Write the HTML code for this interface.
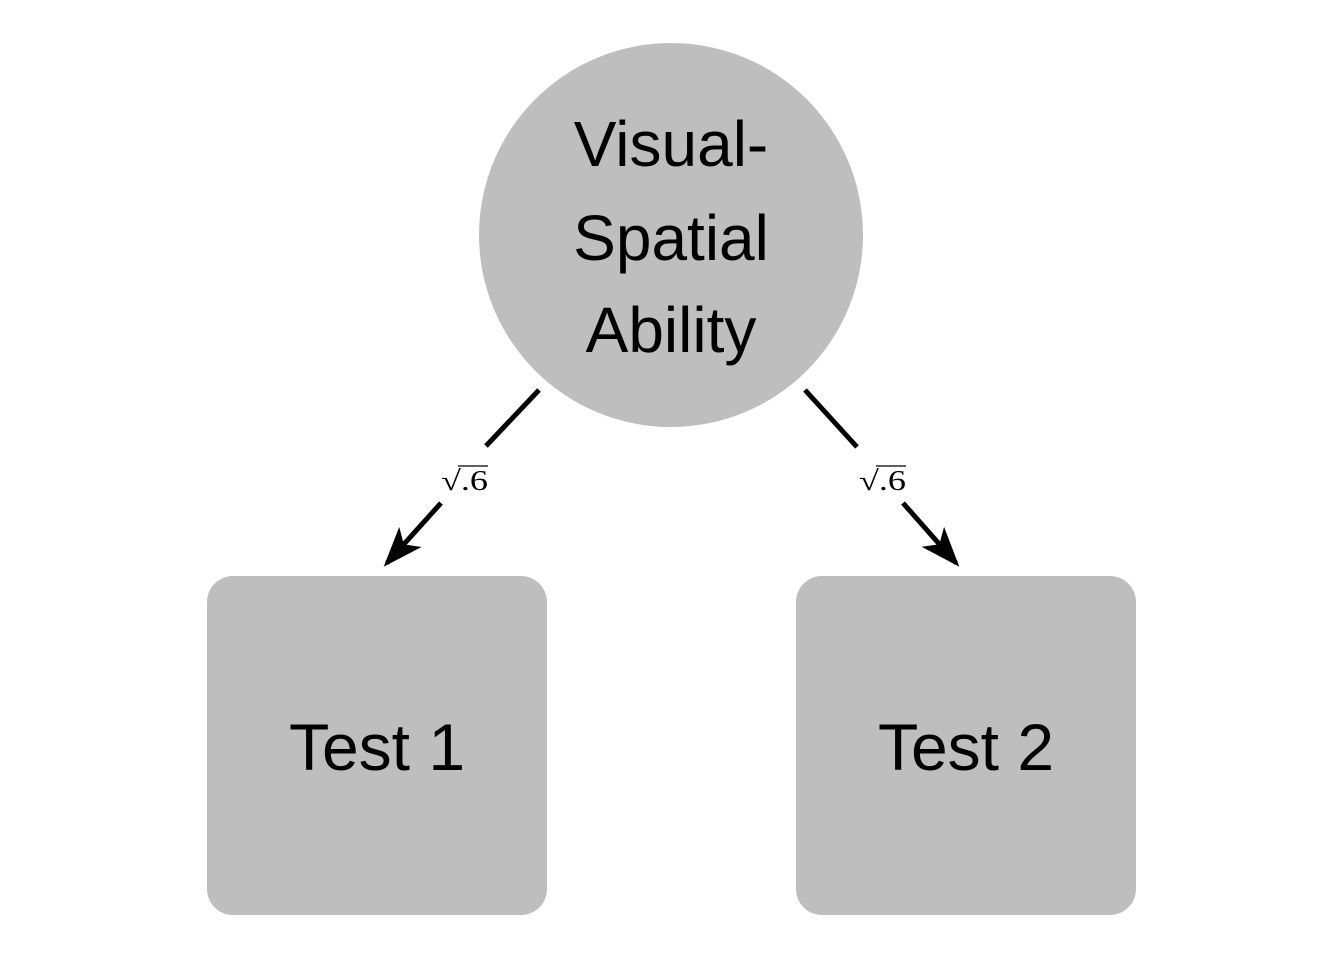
<!DOCTYPE html>
<html><head><meta charset="utf-8"><style>html,body{margin:0;padding:0;background:#fff}</style></head>
<body>
<svg width="1344" height="960" xmlns="http://www.w3.org/2000/svg">
<defs>
<marker id="ah" markerWidth="8" markerHeight="6" refX="7" refY="3" orient="auto" markerUnits="strokeWidth">
<path d="M0,0 L8,3 L0,6 L2,3 Z" fill="#000"/>
</marker>
</defs>
<circle cx="671" cy="235" r="192" fill="#bebebe"/>
<rect x="207" y="576" width="340" height="339" rx="26" fill="#bebebe"/>
<rect x="796" y="576" width="340" height="339" rx="26" fill="#bebebe"/>
<g font-family="Liberation Sans, sans-serif" font-size="64" text-anchor="middle" fill="#000">
<text x="671" y="166">Visual-</text>
<text x="671" y="260">Spatial</text>
<text x="671" y="352">Ability</text>
<text x="377" y="770" font-size="66">Test 1</text>
<text x="966" y="770" font-size="66">Test 2</text>
</g>
<g stroke="#000" stroke-width="5" fill="none">
<line x1="539" y1="390" x2="486" y2="446"/>
<line x1="441" y1="503" x2="387" y2="563" marker-end="url(#ah)"/>
<line x1="805" y1="390" x2="857" y2="447"/>
<line x1="903" y1="503" x2="956" y2="563" marker-end="url(#ah)"/>
</g>
<g font-family="Liberation Serif, serif" font-size="28" fill="#000">
<text x="441" y="490" textLength="47" lengthAdjust="spacingAndGlyphs">√.6</text>
<text x="859" y="490" textLength="47" lengthAdjust="spacingAndGlyphs">√.6</text>
</g>
<g stroke="#000" stroke-width="1.2">
<line x1="458" y1="466" x2="488" y2="466"/>
<line x1="876" y1="466" x2="906" y2="466"/>
</g>
</svg>
</body></html>
